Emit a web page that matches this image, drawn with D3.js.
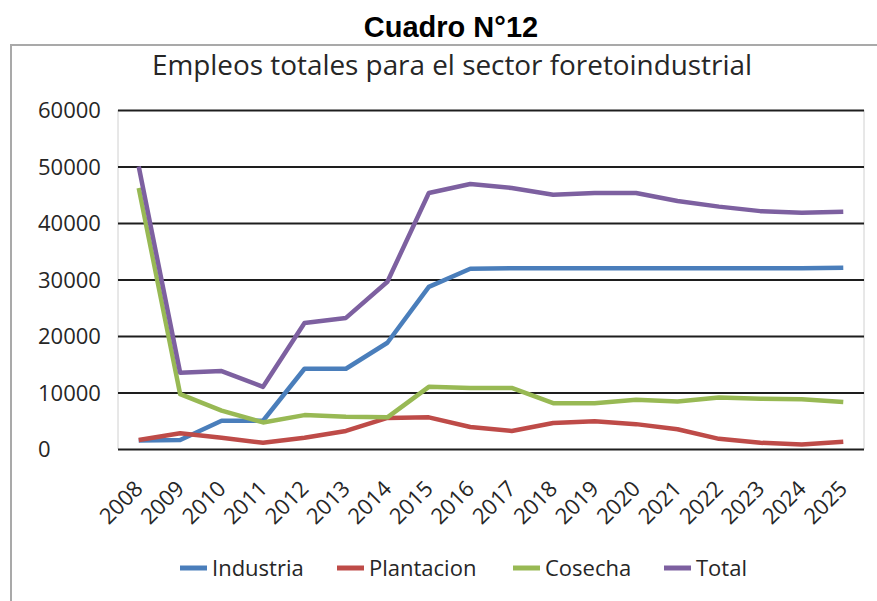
<!DOCTYPE html>
<html>
<head>
<meta charset="utf-8">
<script src="https://cdn.jsdelivr.net/npm/d3@7"></script>
<style>
	body { margin: 0; background: #fff; }
	svg text { font-family: 'Open Sans', sans-serif; fill: #262626; }
</style>
</head>
<body>
<div id="chart"></div>
<script>
	var years = ['2008', '2009', '2010', '2011', '2012', '2013', '2014', '2015', '2016',
		'2017', '2018', '2019', '2020', '2021', '2022', '2023', '2024', '2025'];

	var industria = [1500, 1600, 5000, 5000, 14200, 14200, 18800, 28700, 31900,
		32000, 32000, 32000, 32000, 32000, 32000, 32000, 32000, 32100];
	var plantacion = [1600, 2800, 2000, 1100, 2000, 3200, 5500, 5600, 3900,
		3200, 4600, 4900, 4400, 3500, 1800, 1100, 800, 1300];
	var cosecha = [46200, 9700, 6800, 4700, 6000, 5700, 5600, 11000, 10800,
		10800, 8100, 8100, 8700, 8400, 9100, 8900, 8800, 8300];
	var total = [50000, 13500, 13800, 11000, 22300, 23200, 29600, 45300, 46900,
		46200, 45000, 45300, 45300, 43900, 42900, 42100, 41800, 42000];

	var yTicks = [0, 10000, 20000, 30000, 40000, 50000, 60000];

	var seriesNames = ['Industria', 'Plantacion', 'Cosecha', 'Total'];
	var seriesColors = ['#4a7ebb', '#be4b48', '#98b954', '#7d60a0'];
	var seriesValues = [industria, plantacion, cosecha, total];

	var width = 877,
			height = 601;
	var plot = { left: 118, right: 864, top: 110, bottom: 449 };

	var svg = d3.select('#chart').append('svg')
							.attr('width', width)
							.attr('height', height);

	svg.append('rect')
		 .attr('width', width).attr('height', height)
		 .attr('fill', '#fff');

	// marco exterior del grafico
	svg.append('rect')
		 .attr('x', 11).attr('y', 45)
		 .attr('width', width + 10).attr('height', height)
		 .attr('fill', 'none')
		 .attr('stroke', '#a9a9a9')
		 .attr('stroke-width', 2);

	svg.append('text')
		 .attr('x', 451).attr('y', 37)
		 .attr('text-anchor', 'middle')
		 .style('font-family', "'Liberation Sans', Arial, sans-serif")
		 .style('font-weight', 'bold')
		 .style('font-size', '29px')
		 .style('fill', '#000')
		 .text('Cuadro N°12');

	svg.append('text')
		 .attr('x', 452).attr('y', 75)
		 .attr('text-anchor', 'middle')
		 .attr('textLength', 600)
		 .attr('lengthAdjust', 'spacingAndGlyphs')
		 .style('font-size', '27px')
		 .text('Empleos totales para el sector foretoindustrial');

	var x = d3.scalePoint()
						.domain(years)
						.range([plot.left, plot.right])
						.padding(0.5);

	var y = d3.scaleLinear()
						.domain([0, 60000])
						.range([plot.bottom, plot.top]);

	// bordes laterales del area de trazado
	svg.append('g').selectAll('line')
		 .data([plot.left, plot.right])
		 .enter().append('line')
		 .attr('x1', function (d) { return d; })
		 .attr('x2', function (d) { return d; })
		 .attr('y1', plot.top).attr('y2', plot.bottom)
		 .attr('stroke', '#d0d0d0')
		 .attr('stroke-width', 1);

	var yaxis = d3.axisLeft(y)
								.tickValues(yTicks)
								.tickSize(-(plot.right - plot.left))
								.tickFormat(d3.format('d'));

	var gy = svg.append('g')
							.attr('transform', 'translate(' + plot.left + ', 0)')
							.call(yaxis);

	gy.select('.domain').remove();
	gy.selectAll('.tick line')
		.attr('stroke', '#1e1e1e')
		.attr('stroke-width', 2.2);
	gy.selectAll('.tick text')
		.attr('x', 38 - plot.left)
		.attr('text-anchor', 'start')
		.attr('dy', '0.35em')
		.style('font-size', '22px')
		.style('fill', '#262626');

	var xaxis = d3.axisBottom(x).tickSize(0).tickPadding(0);

	var gx = svg.append('g')
							.attr('transform', 'translate(0, ' + plot.bottom + ')')
							.call(xaxis);

	gx.select('.domain').remove();
	gx.selectAll('.tick text')
		.attr('y', 0).attr('dy', 0)
		.attr('text-anchor', 'end')
		.attr('transform', 'translate(5, 41) rotate(-45)')
		.style('font-size', '22px')
		.style('fill', '#262626');

	var line = d3.line()
							 .x(function (d, i) { return x(years[i]); })
							 .y(function (d) { return y(d); });

	svg.append('g').selectAll('path')
		 .data(seriesValues)
		 .enter().append('path')
		 .attr('d', function (d) { return line(d); })
		 .attr('fill', 'none')
		 .attr('stroke', function (d, i) { return seriesColors[i]; })
		 .attr('stroke-width', 4.5)
		 .attr('stroke-linejoin', 'round');

	// leyenda
	var legendX = [180, 337, 513, 664];

	var legend = svg.append('g').selectAll('g')
									.data(seriesNames)
									.enter().append('g')
									.attr('transform', function (d, i) {
										return 'translate(' + legendX[i] + ', 568)';
									});

	legend.append('line')
				.attr('x1', 0).attr('x2', 27)
				.attr('stroke', function (d, i) { return seriesColors[i]; })
				.attr('stroke-width', 5);

	legend.append('text')
				.attr('x', 32).attr('y', 8)
				.style('font-size', '22px')
				.text(function (d) { return d; });
</script>
</body>
</html>
